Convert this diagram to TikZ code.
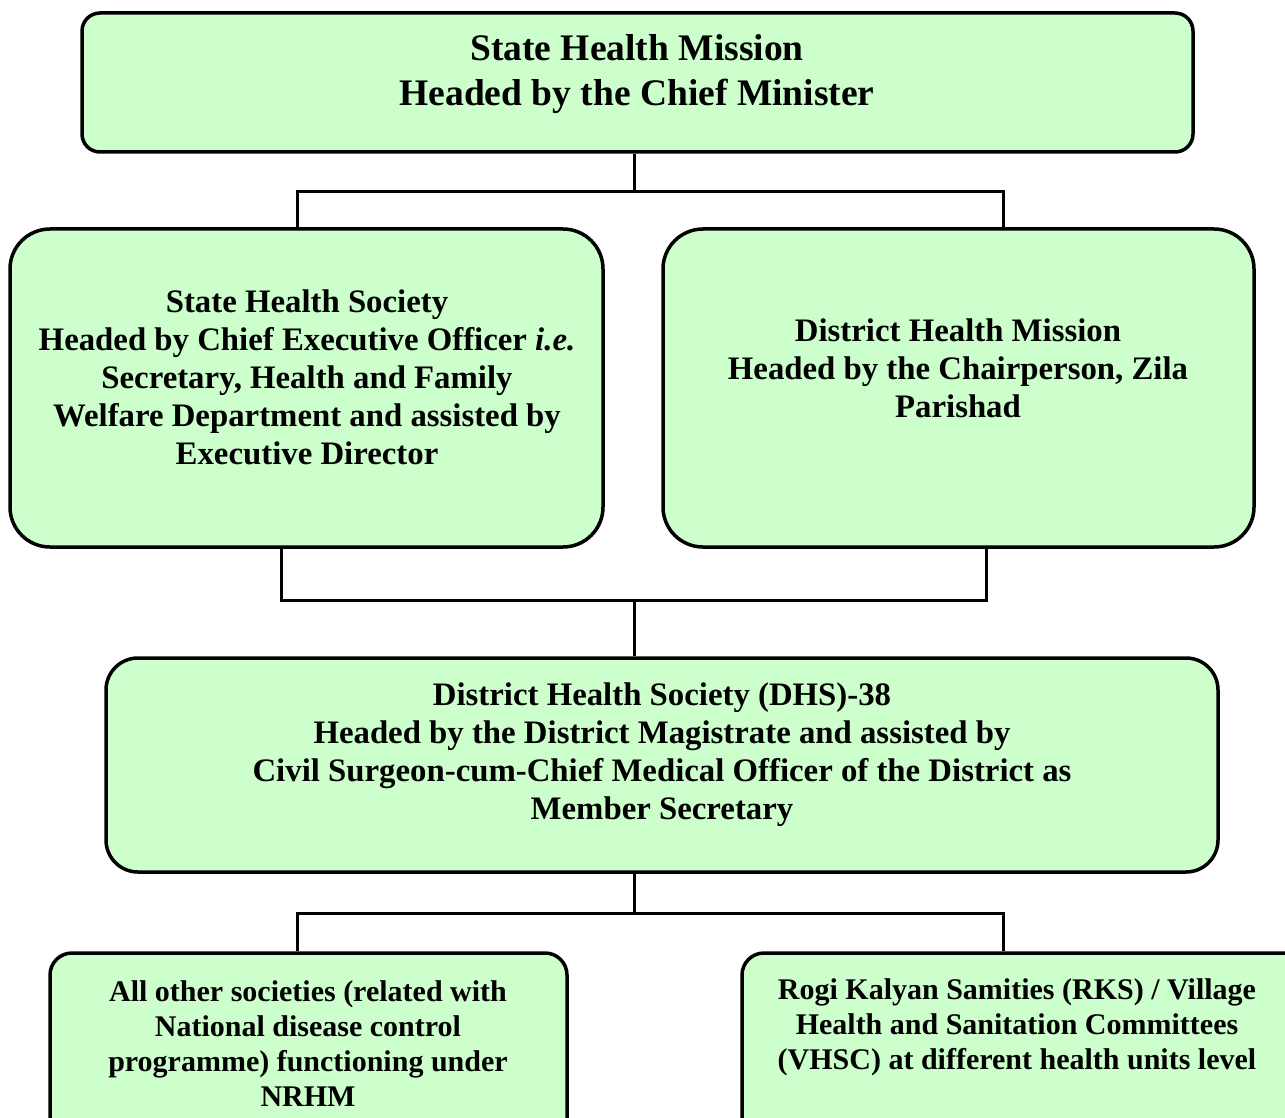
\documentclass[tikz,border=0pt]{standalone}
\usepackage{fontspec}
\setmainfont{Liberation Serif}
\definecolor{boxgreen}{HTML}{CCFFCC}
\begin{document}
\begin{tikzpicture}[x=1pt,y=-1pt,
  box/.style={draw=black, fill=boxgreen, line width=3.5pt, rounded corners=#1, inner sep=0pt},
  box/.default=18pt,
  conn/.style={draw=black, line width=3pt},
  txt/.style={align=center, inner sep=0pt, font=\bfseries}]
\useasboundingbox (0,0) rectangle (1285,1118);
% boxes
\node[box=18pt, minimum width=1111pt, minimum height=139pt] (shm) at (637.5,82.5) {};
\node[box=40pt, minimum width=593pt, minimum height=318pt] (shs) at (306.5,388) {};
\node[box=40pt, minimum width=591pt, minimum height=318pt] (dhm) at (958.5,388) {};
\node[box=32pt, minimum width=1112pt, minimum height=214pt] (dhs) at (662,765) {};
\node[box=22pt, minimum width=517pt, minimum height=200pt] (aos) at (308.5,1053) {};
\node[box=22pt, minimum width=600pt, minimum height=200pt] (rks) at (1042,1053) {};
% texts
\node[txt, font=\fontsize{37.5}{45}\selectfont\bfseries] (tshm) at (637,74) {State Health Mission\\Headed by the Chief Minister};
\node[txt, font=\fontsize{32.8}{38}\selectfont\bfseries] (tshs) at (307,377) {State Health Society\\Headed by Chief Executive Officer \textit{i.e.}\\Secretary, Health and Family\\Welfare Department and assisted by\\Executive Director};
\node[txt, font=\fontsize{32.8}{38}\selectfont\bfseries] (tdhm) at (958,368) {District Health Mission\\Headed by the Chairperson, Zila\\Parishad};
\node[txt, font=\fontsize{32.8}{38}\selectfont\bfseries] (tdhs) at (662,755) {District Health Society (DHS)-38\\Headed by the District Magistrate and assisted by\\Civil Surgeon-cum-Chief Medical Officer of the District as\\Member Secretary};
\node[txt, font=\fontsize{30}{35}\selectfont\bfseries] (taos) at (308,1044) {All other societies (related with\\National disease control\\programme) functioning under\\NRHM};
\node[txt, font=\fontsize{30}{35}\selectfont\bfseries] (trks) at (1017,1027) {Rogi Kalyan Samities (RKS) / Village\\Health and Sanitation Committees\\(VHSC) at different health units level};
% connectors
\coordinate (j1) at (634,192);
\coordinate (j2) at (634,600);
\coordinate (j3) at (634,913);
\draw[conn] (shm.south -| j1) -- (j1);
\draw[conn] (shs.north -| 297,0) |- (j1) -| (dhm.north -| 1003,0);
\draw[conn] (shs.south -| 281,0) |- (j2) -| (dhm.south -| 986,0);
\draw[conn] (j2) -- (dhs.north -| j2);
\draw[conn] (dhs.south -| j3) -- (j3);
\draw[conn] (aos.north -| 297,0) |- (j3) -| (rks.north -| 1003,0);
\end{tikzpicture}
\end{document}
